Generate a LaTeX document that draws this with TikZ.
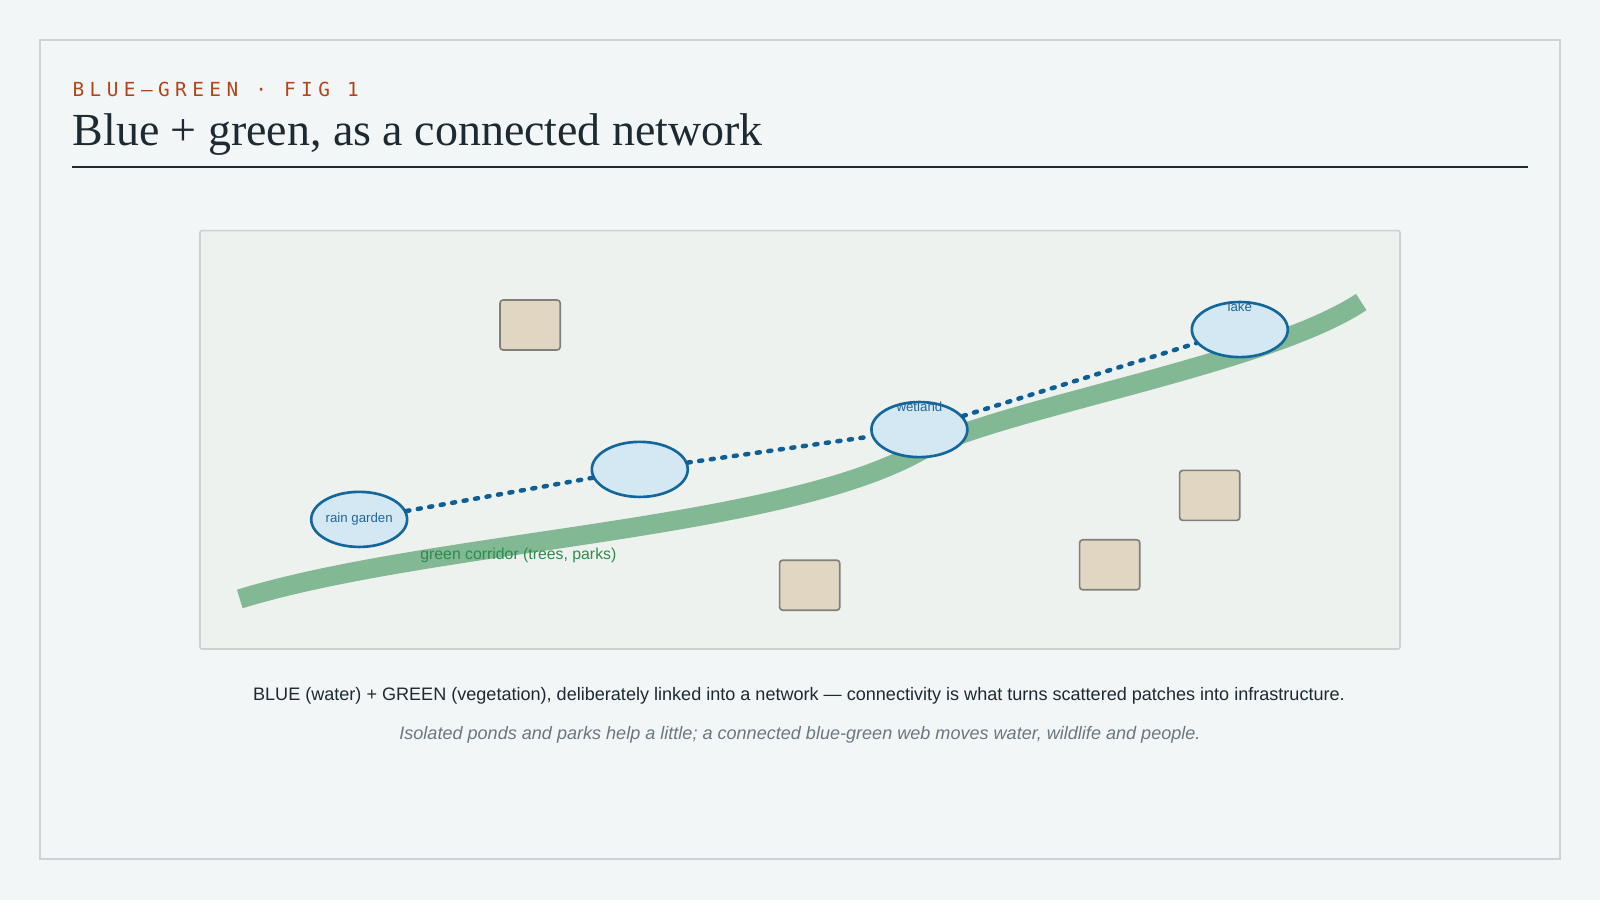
\documentclass[tikz,border=0pt]{standalone}
\usepackage{fontspec}
\usetikzlibrary{shapes.geometric,positioning}

\newfontfamily\titlefont{Liberation Serif}
\newfontfamily\kickfont[LetterSpace=28]{DejaVu Sans Mono}
\newfontfamily\capfont{Liberation Sans}

\definecolor{pagebg}{HTML}{F3F6F7}
\definecolor{framegray}{HTML}{C9D3D8}
\definecolor{kickred}{HTML}{B4441A}
\definecolor{inkdark}{HTML}{1E2A32}
\definecolor{panelfill}{HTML}{EEF2EE}
\definecolor{panelline}{HTML}{CDD2CE}
\definecolor{corridor}{HTML}{82B994}
\definecolor{corridortext}{HTML}{2E8B4E}
\definecolor{pondfill}{HTML}{D3E8F2}
\definecolor{pondline}{HTML}{13679B}
\definecolor{pondtext}{HTML}{22669A}
\definecolor{linkblue}{HTML}{0E5F95}
\definecolor{bldfill}{HTML}{E0D6C1}
\definecolor{bldline}{HTML}{7F807A}
\definecolor{notegray}{HTML}{6B7780}

\begin{document}
\begin{tikzpicture}[
      x=1pt,y=-1pt,
      pond/.style={
         ellipse,
         draw=pondline,
         fill=pondfill,
         line width=2.6pt,
         inner sep=0pt,
         minimum width=94pt,
         minimum height=54pt,
         text=pondtext,
         font=\capfont\fontsize{13}{15}\selectfont},
      pondlabel/.style={anchor=center,yshift=-6pt,text=pondtext,
         font=\capfont\fontsize{13}{15}\selectfont},
      building/.style={
         rectangle,
         rounded corners=3pt,
         draw=bldline,
         fill=bldfill,
         line width=1.6pt,
         inner sep=0pt,
         minimum width=59pt,
         minimum height=49pt},
      link/.style={draw=linkblue,line width=4.4pt,line cap=round,
         dash pattern=on 3pt off 8.4pt},
      captext/.style={anchor=base,text=inkdark,
         font=\capfont\fontsize{17.7}{20}\selectfont}
      ]
      \fill[pagebg] (0,0) rectangle (1568,882);
      \useasboundingbox (0,0) rectangle (1568,882);
      \draw[framegray,line width=1.8pt] (39,39) rectangle (1529,842);

      % heading
      \node[anchor=base west,inner sep=0pt,text=kickred,
         font=\kickfont\fontsize{19}{22}\selectfont] (kicker) at (71,95) {BLUE–GREEN · FIG 1};
      \node[anchor=base west,inner sep=0pt,text=inkdark,
         font=\titlefont\fontsize{45}{50}\selectfont] (title) at (71,143) {Blue + green, as a connected network};
      \draw[inkdark,line width=1.8pt] (71,164) -- (1497,164);

      % map panel
      \draw[panelline,fill=panelfill,line width=1.6pt,rounded corners=2pt] (196,226) rectangle (1372,636);

      % green corridor
      \draw[corridor,line width=19pt] (235,587) .. controls (420,530) and (760,520) .. (900,443)
            .. controls (980,400) and (1240,358) .. (1334,296);
      \node[text=corridortext,font=\capfont\fontsize{15.5}{18}\selectfont] (corr) at (508,544) {green corridor (trees, parks)};

      % buildings
      \foreach \n/\x/\y in {% name/x/y
        b1/519.5/318.5,
        b2/793.5/573.5,
        b3/1087.5/553.5,
        b4/1185.5/485.5}
        \node[building] (\n) at (\x,\y) {};

      % water bodies
      \node[pond] (rg) at (352,509) {rain garden};
      \node[pond] (p2) at (627,460) {};
      \node[pond,label={[pondlabel]north:wetland}] (wet) at (901,421) {};
      \node[pond,label={[pondlabel]north:lake}] (lake) at (1215,323) {};

      \foreach \i/\j in {rg/p2, p2/wet, wet/lake}
       \draw [link] (\i) -- (\j);

      % captions
      \node[captext] (cap) at (783,686) {BLUE (water) + GREEN (vegetation), deliberately linked into a network — connectivity is what turns scattered patches into infrastructure.};
      \node[captext,text=notegray,font=\capfont\itshape\fontsize{17.7}{20}\selectfont] (note) at (784,725) {Isolated ponds and parks help a little; a connected blue-green web moves water, wildlife and people.};
    \end{tikzpicture}
\end{document}
